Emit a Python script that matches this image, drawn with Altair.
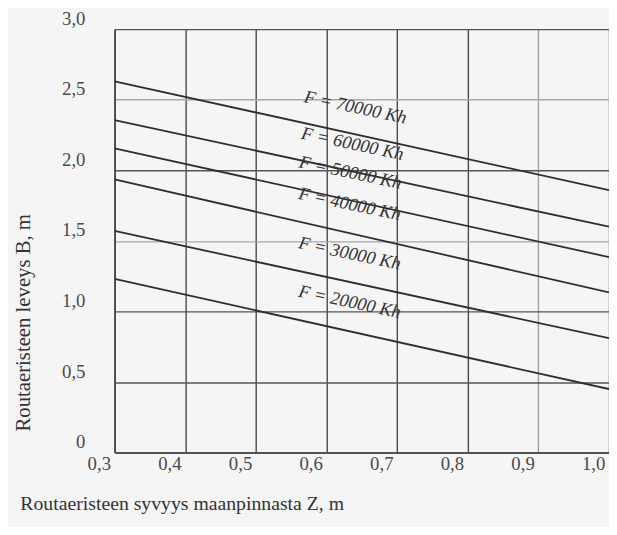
import altair as alt
import pandas as pd

# Heat resistance (freezing index) values, Kh
F_values = [70000, 60000, 50000, 40000, 30000, 20000]
# Line end points: insulation depth Z (m) and width B (m)
Z_start = 0.3
Z_end = 1.0
B_at_start = [2.63, 2.355, 2.155, 1.935, 1.57, 1.23]
B_at_end = [1.86, 1.60, 1.385, 1.135, 0.81, 0.45]
# Label anchor positions along the lines
label_Z = [0.641, 0.637, 0.634, 0.633, 0.633, 0.633]
label_B = [2.448, 2.189, 1.986, 1.762, 1.413, 1.070]
label_text = ["F = 70000 Kh", "F = 60000 Kh", "F = 50000 Kh", "F = 40000 Kh", "F = 30000 Kh", "F = 20000 Kh"]

x_ticks = [0.3, 0.4, 0.5, 0.6, 0.7, 0.8, 0.9, 1.0]
y_ticks = [0, 0.5, 1.0, 1.5, 2.0, 2.5, 3.0]

rows = []
for f, b0, b1 in zip(F_values, B_at_start, B_at_end):
    rows.append({"F": f, "Z": Z_start, "B": b0})
    rows.append({"F": f, "Z": Z_end, "B": b1})
lines_df = pd.DataFrame(rows)
labels_df = pd.DataFrame({"Z": label_Z, "B": label_B, "text": label_text})

FONT = "Liberation Serif"

x_scale = alt.Scale(domain=[0.3, 1.0], nice=False, zero=False)
y_scale = alt.Scale(domain=[0, 3.0], nice=False, zero=False)

x_axis = alt.Axis(
    values=x_ticks,
    labelExpr="datum.value == 0 ? '0' : replace(format(datum.value, '.1f'), '.', ',')",
    title="Routaeristeen syvyys maanpinnasta Z, m",
    titleX=68, titleY=52, titleAlign="center", titleBaseline="middle",
    titleFont=FONT, titleFontSize=20, titleFontWeight="normal", titleColor="#333333",
    labelFont=FONT, labelFontSize=19, labelColor="#4a4a4a",
    labelOffset=-16, labelPadding=2, labelFlush=False, labelOverlap=False, labelBound=False,
    tickSize=0, domainColor="#444444", domainWidth=1.6,
    grid=True,
    gridColor={"condition": {"test": "datum.value == 0.9", "value": "#a0a0a0"}, "value": "#4a4a4a"},
    gridWidth=1.4,
)
y_axis = alt.Axis(
    values=y_ticks,
    labelExpr="datum.value == 0 ? '0' : replace(format(datum.value, '.1f'), '.', ',')",
    title="Routaeristeen leveys B, m",
    titleX=-92, titleY=297, titleAngle=-90, titleAlign="center", titleBaseline="middle",
    titleFont=FONT, titleFontSize=21, titleFontWeight="normal", titleColor="#333333",
    labelFont=FONT, labelFontSize=19, labelColor="#4a4a4a",
    labelOffset=-11, labelPadding=30, labelOverlap=False, labelBound=False, labelFlush=False,
    tickSize=0, domainColor="#444444", domainWidth=1.6,
    grid=True,
    gridColor={"condition": {"test": "datum.value == 1.5 || datum.value == 2.5", "value": "#a8a8a8"},
               "value": "#555555"},
    gridWidth=1.4,
)

lines = alt.Chart(lines_df).mark_line(color="#2e2e2e", strokeWidth=1.8, clip=True).encode(
    x=alt.X("Z:Q", scale=x_scale, axis=x_axis),
    y=alt.Y("B:Q", scale=y_scale, axis=y_axis),
    detail="F:N",
)

labels = alt.Chart(labels_df).mark_text(
    font=FONT, fontSize=18.5, fontStyle="italic", color="#333333",
    angle=12, align="center", baseline="middle",
).encode(
    x=alt.X("Z:Q", scale=x_scale),
    y=alt.Y("B:Q", scale=y_scale),
    text="text:N",
)

chart = alt.layer(lines, labels).properties(
    width=501, height=429,
    autosize=alt.AutoSizeParams(type="none"),
    padding={"left": 108, "top": 18, "right": 0, "bottom": 72},
    background="#f5f5f5",
).configure_view(strokeWidth=0)

chart.save("out.html", embed_options={"renderer": "svg", "actions": False})
